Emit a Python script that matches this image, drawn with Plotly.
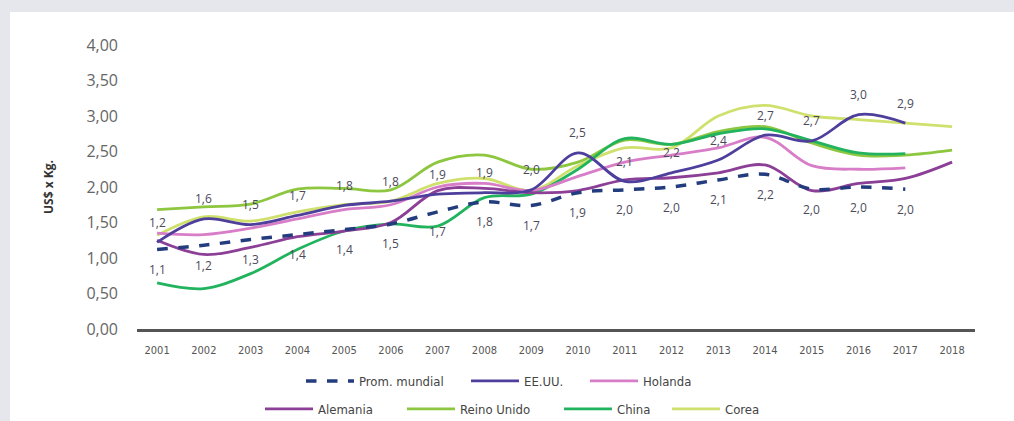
import plotly.graph_objects as go

years = list(range(2001, 2019))
year_labels = [str(y) for y in years]

prom_mundial = [1.12, 1.18, 1.26, 1.33, 1.40, 1.48, 1.65, 1.79, 1.74, 1.92, 1.96, 2.00, 2.10, 2.18, 1.97, 2.00, 1.97]
eeuu = [1.22, 1.55, 1.47, 1.60, 1.74, 1.80, 1.90, 1.92, 1.96, 2.48, 2.08, 2.20, 2.38, 2.73, 2.65, 3.02, 2.90]
holanda = [1.35, 1.33, 1.42, 1.55, 1.68, 1.75, 2.00, 2.05, 1.95, 2.15, 2.35, 2.45, 2.55, 2.70, 2.30, 2.25, 2.27]
alemania = [1.25, 1.05, 1.15, 1.30, 1.38, 1.50, 1.95, 1.98, 1.92, 1.95, 2.10, 2.13, 2.20, 2.31, 1.95, 2.05, 2.12, 2.35]
reino_unido = [1.68, 1.72, 1.76, 1.97, 1.98, 1.96, 2.35, 2.45, 2.25, 2.35, 2.66, 2.60, 2.78, 2.85, 2.62, 2.45, 2.45, 2.52]
china = [0.65, 0.57, 0.78, 1.12, 1.38, 1.48, 1.45, 1.85, 1.90, 2.25, 2.68, 2.60, 2.75, 2.82, 2.65, 2.48, 2.47]
corea = [1.32, 1.58, 1.52, 1.65, 1.75, 1.80, 2.05, 2.12, 1.95, 2.30, 2.55, 2.55, 3.00, 3.15, 3.00, 2.95, 2.90, 2.85]

eeuu_labels = ["1,2", "1,6", "1,5", "1,7", "1,8", "1,8", "1,9", "1,9", "2,0", "2,5", "2,1", "2,2", "2,4", "2,7", "2,7", "3,0", "2,9"]
prom_labels = ["1,1", "1,2", "1,3", "1,4", "1,4", "1,5", "1,7", "1,8", "1,7", "1,9", "2,0", "2,0", "2,1", "2,2", "2,0", "2,0", "2,0"]

y_ticks = [0, 0.5, 1.0, 1.5, 2.0, 2.5, 3.0, 3.5, 4.0]

W, H = 1014, 421
L, R, T, B = 137, 39, 45, 92
pw, ph = W - L - R, H - T - B

def px(xf):
    return (xf - L) / pw

def py(yf):
    return (H - B - yf) / ph

# name, values, colour, dash, legend id, legend left x (px), legend centre y (px)
series = [
    ("Prom. mundial", prom_mundial, "#223c7e", "dash", "legend", 301, 381),
    ("EE.UU.", eeuu, "#4e3f9c", "solid", "legend2", 466, 381),
    ("Holanda", holanda, "#d87ec8", "solid", "legend3", 585, 381),
    ("Alemania", alemania, "#8c3f96", "solid", "legend4", 260, 409),
    ("Reino Unido", reino_unido, "#8dc63f", "solid", "legend5", 402, 409),
    ("China", china, "#22b35e", "solid", "legend6", 559, 409),
    ("Corea", corea, "#cfe06c", "solid", "legend7", 667, 409),
]

fig = go.Figure()
order = [6, 4, 5, 2, 3, 1, 0]
for i in order:
    name, vals, color, dash, leg, lx, ly = series[i]
    fig.add_trace(go.Scatter(
        x=years[:len(vals)], y=vals, name=name, mode="lines",
        line=dict(color=color, width=3.5 if dash == "dash" else 2.8, dash=dash, shape="spline", smoothing=1.0),
        legend=leg, showlegend=True, hoverinfo="skip",
    ))

annotations = []
lab_font = dict(family="Open Sans", size=12, color="#4a4a5c")
for x, v, t in zip(years, eeuu, eeuu_labels):
    annotations.append(dict(x=x, y=v, text=t, showarrow=False, yshift=20, font=lab_font))
for x, v, t in zip(years, prom_mundial, prom_labels):
    annotations.append(dict(x=x, y=v, text=t, showarrow=False, yshift=-20, font=lab_font))

legends = {}
for name, vals, color, dash, leg, lx, ly in series:
    legends[leg] = dict(orientation="h", xref="container", yref="container",
                        x=lx / W, xanchor="left", y=1 - ly / H, yanchor="middle",
                        bgcolor="rgba(0,0,0,0)", itemwidth=48,
                        font=dict(family="DejaVu Sans Condensed", size=13, color="#444"))

fig.update_layout(
    width=W, height=H,
    margin=dict(l=L, r=R, t=T, b=B, autoexpand=False),
    showlegend=True,
    paper_bgcolor="white",
    plot_bgcolor="white",
    separators=",.",
    font=dict(family="Open Sans", color="#555"),
    shapes=[
        dict(type="rect", xref="paper", yref="paper", x0=px(0), x1=px(W), y0=py(12), y1=py(0),
             fillcolor="#e6e7ec", line=dict(width=0), layer="below"),
        dict(type="rect", xref="paper", yref="paper", x0=px(0), x1=px(10), y0=py(H), y1=py(12),
             fillcolor="#e6e7ec", line=dict(width=0), layer="below"),
    ],
    annotations=annotations,
    xaxis=dict(range=[2000.57, 2018.49], tickvals=years, ticktext=year_labels,
               showgrid=False, zeroline=False, showline=True, linecolor="#555555", linewidth=3,
               ticks="", ticklabelstandoff=9,
               tickfont=dict(family="DejaVu Sans Condensed", size=11, color="#555")),
    yaxis=dict(range=[0, 4.0], tickvals=y_ticks, tickformat=".2f", showgrid=False, zeroline=False,
               showline=False, ticks="", ticklabelstandoff=18,
               tickfont=dict(family="Open Sans", size=16, color="#666"),
               title=dict(text="<b>US$ x Kg.</b>", standoff=30, font=dict(family="Open Sans", size=12, color="#333"))),
    **legends,
)

fig.write_html("out.html", config={"displayModeBar": False},
               post_script="document.body.style.margin='0';")
